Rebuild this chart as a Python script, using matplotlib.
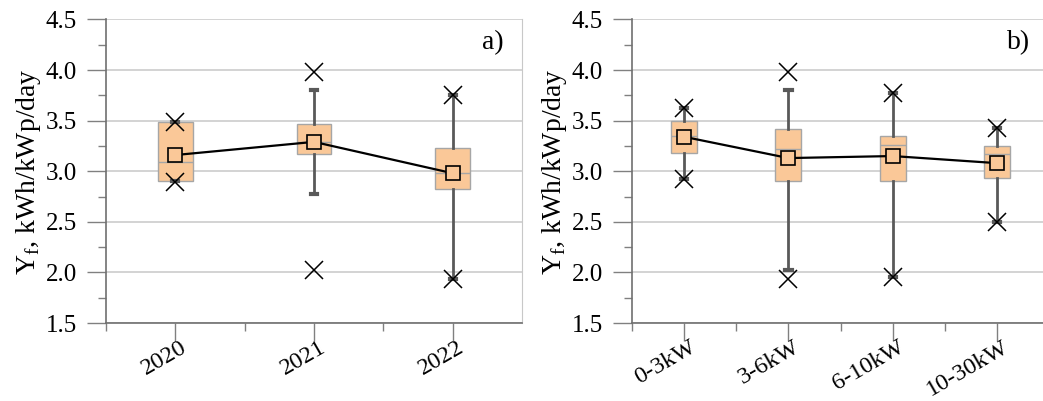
import matplotlib.pyplot as plt
import matplotlib.transforms as mtransforms
from matplotlib.ticker import MultipleLocator

# Годы
years = ['2020', '2021', '2022']
year_q1 = [2.90, 3.17, 2.82]
year_med = [3.09, 3.29, 2.98]
year_q3 = [3.49, 3.47, 3.23]
year_whislo = [2.90, 2.77, 1.93]
year_whishi = [3.49, 3.80, 3.75]
year_mean = [3.16, 3.29, 2.98]
year_min = [2.89, 2.02, 1.93]
year_max = [3.49, 3.98, 3.75]

# Классы мощности
sizes = ['0-3kW', '3-6kW', '6-10kW', '10-30kW']
size_q1 = [3.18, 2.90, 2.90, 2.93]
size_med = [3.35, 3.22, 3.26, 3.17]
size_q3 = [3.50, 3.42, 3.35, 3.25]
size_whislo = [2.92, 2.02, 1.95, 2.50]
size_whishi = [3.62, 3.80, 3.77, 3.43]
size_mean = [3.34, 3.13, 3.15, 3.08]
size_min = [2.92, 1.93, 1.95, 2.50]
size_max = [3.62, 3.98, 3.77, 3.43]

BOX_COLOR = '#FAC898'
plt.rcParams['font.family'] = ['Liberation Serif', 'DejaVu Serif']
plt.rcParams['mathtext.fontset'] = 'custom'
plt.rcParams['mathtext.rm'] = 'Liberation Serif'


def draw_panel(ax, labels, q1, med, q3, lo, hi, mean, vmin, vmax, tag, capw):
    n = len(labels)
    pos = list(range(1, n + 1))
    stats = [dict(q1=q1[i], med=med[i], q3=q3[i], whislo=lo[i], whishi=hi[i],
                  mean=mean[i], fliers=[]) for i in range(n)]
    ax.bxp(stats, positions=pos, widths=0.25, patch_artist=True,
           showmeans=False, showfliers=False, capwidths=capw,
           boxprops=dict(facecolor=BOX_COLOR, edgecolor='#A6A6A6', linewidth=1.0),
           medianprops=dict(color='#A6A6A6', linewidth=1.0),
           whiskerprops=dict(color='#595959', linewidth=2.0),
           capprops=dict(color='#595959', linewidth=3.0),
           zorder=3)
    # линия средних
    ax.plot(pos, mean, color='black', lw=1.6, zorder=4)
    ax.plot(pos, mean, ls='none', marker='s', ms=9.5, mfc=BOX_COLOR,
            mec='black', mew=1.2, zorder=5)
    # мин/макс
    ax.plot(pos, vmin, ls='none', marker='x', ms=13, mec='black', mew=1.1, zorder=6)
    ax.plot(pos, vmax, ls='none', marker='x', ms=13, mec='black', mew=1.1, zorder=6)

    ax.set_xlim(0.5, n + 0.5)
    ax.set_ylim(1.5, 4.5)
    ax.yaxis.set_major_locator(MultipleLocator(0.5))
    ax.yaxis.set_minor_locator(MultipleLocator(0.25))
    ax.set_xticks(pos)
    ax.set_xticks([p + 0.5 for p in range(0, n)], minor=True)
    ax.set_xticklabels(labels, rotation=30, ha='right', rotation_mode='anchor')
    yt = [1.5, 2.0, 2.5, 3.0, 3.5, 4.0, 4.5]
    ax.set_yticks(yt)
    ax.set_yticklabels(['%.1f' % v for v in yt])

    ax.grid(axis='y', color='#D0D0D0', lw=1.3, zorder=0)
    ax.set_axisbelow(True)
    ax.tick_params(which='major', direction='out', length=14, width=1.0,
                   color='#808080', labelsize=18)
    ax.tick_params(axis='y', which='major', pad=7)
    ax.tick_params(which='minor', direction='out', length=6, width=1.0, color='#808080')
    ax.tick_params(axis='x', which='major', length=13, pad=-3, labelsize=17.5)
    # сдвиг подписей по x чуть вправо
    shift = mtransforms.ScaledTranslation(3.3 / 72, 0, ax.figure.dpi_scale_trans)
    for lab in ax.get_xticklabels():
        lab.set_transform(lab.get_transform() + shift)
    for side in ['left', 'bottom']:
        ax.spines[side].set_color('#707070')
        ax.spines[side].set_linewidth(1.2)
    ax.spines['top'].set_visible(False)
    ax.spines['right'].set_color('#C8C8C8')
    ax.set_ylabel(r'Y$_{\rm f}$, kWh/kWp/day', fontsize=20, labelpad=2)
    ax.text(0.955, 0.925, tag, transform=ax.transAxes, ha='right', va='center', fontsize=20)


fig = plt.figure(figsize=(10.43, 4.01), dpi=100)
ax1 = fig.add_axes([0.1016, 0.1945, 0.3989, 0.757])
ax2 = fig.add_axes([0.606, 0.1945, 0.3998, 0.757])

draw_panel(ax1, years, year_q1, year_med, year_q3, year_whislo, year_whishi,
           year_mean, year_min, year_max, 'a)', 0.045)
draw_panel(ax2, sizes, size_q1, size_med, size_q3, size_whislo, size_whishi,
           size_mean, size_min, size_max, 'b)', 0.06)

fig.savefig('out.png', dpi=100)
